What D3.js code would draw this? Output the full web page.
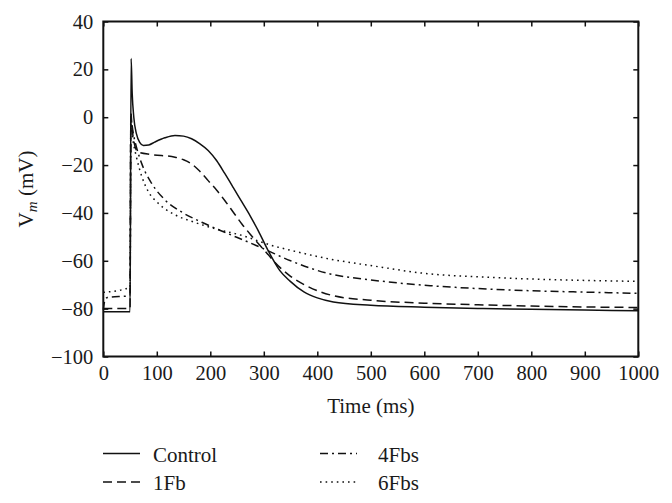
<!DOCTYPE html>

<head>
    <meta charset="utf-8">
    <title>Membrane potential</title>
    <script type="text/javascript" src="https://d3js.org/d3.v7.min.js"></script>
    <style>
        body { margin: 0; background: #fff; }
        text { font-family: "Liberation Serif", "DejaVu Serif", serif; fill: #1a1a1a; }
    </style>
</head>

<body>
    <div id="container"></div>
    <script>
        //------------------------1. DATA------------------------//
        var seriesNames = ["Control", "1Fb", "4Fbs", "6Fbs"];

        var controlT = [0, 50, 52, 54, 57, 62, 68, 75, 85, 96, 115, 134, 150, 165, 180, 196, 212, 227, 243, 259, 275, 290, 308, 330, 349, 375, 400, 430, 500, 600, 700, 800, 900, 1000];
        var controlV = [-81.3, -81.3, 24.5, 10, 0, -7, -10.5, -11.8, -11.6, -10.4, -8.6, -7.6, -7.9, -9, -11, -13.9, -18.2, -23.5, -29.4, -35.4, -41.4, -47.6, -55.7, -64.1, -68.5, -73, -75.5, -77.2, -78.6, -79.4, -79.9, -80.3, -80.6, -80.9];

        var fb1T = [0, 50, 51.5, 54, 58, 65, 90, 134, 150, 165, 180, 196, 212, 227, 243, 259, 275, 290, 305, 320, 350, 380, 430, 500, 600, 700, 800, 900, 1000];
        var fb1V = [-79.9, -79.9, 2, -5, -11, -14.6, -15.6, -16.7, -17.8, -19.5, -22.5, -26.5, -30.5, -34.8, -39.7, -44.6, -49, -52.9, -56.6, -60.5, -66.5, -70.5, -74.6, -76.5, -77.7, -78.4, -78.9, -79.3, -79.5];

        var fb4T = [0, 3, 8, 50, 51.5, 57, 62, 72, 90, 115, 147, 184, 227, 271, 302, 350, 424, 500, 611, 700, 798, 900, 1000];
        var fb4V = [-80.5, -76.5, -75.3, -74.6, -1.5, -8, -12.5, -19.5, -27.5, -34.5, -39.7, -43.9, -48.1, -52.2, -55.2, -60, -65.5, -68, -70.4, -71.6, -72.5, -73.1, -73.6];

        var fb6T = [0, 50, 51.5, 55, 62, 72, 84, 103, 134, 165, 209, 259, 315, 350, 424, 500, 611, 700, 798, 900, 1000];
        var fb6V = [-73.2, -71.1, -3, -9, -16.7, -24.8, -31, -36, -40.8, -43.5, -46.6, -49.4, -53.6, -55.6, -59.3, -62, -65.5, -66.7, -67.6, -68.2, -68.6];

        var xTicks = [0, 100, 200, 300, 400, 500, 600, 700, 800, 900, 1000];
        var yTicks = [-100, -80, -60, -40, -20, 0, 20, 40];

        //------------------------2. PREPARATION------------------------//
        var W = 672, H = 503,
            margin = { top: 21.5, right: 33.7, bottom: 146.5, left: 103.3 },
            width = W - margin.left - margin.right,
            height = H - margin.top - margin.bottom;

        var dashes = ["none", "9,5", "8,4,2,4", "1.6,4"];

        var x = d3.scaleLinear().domain([0, 1000]).range([0, width]);
        var y = d3.scaleLinear().domain([-100, 40]).range([height, 0]);

        function zip(ts, vs) {
            return ts.map(function (t, i) { return { t: t, v: vs[i] }; });
        }

        var series = [
            { name: seriesNames[0], values: zip(controlT, controlV) },
            { name: seriesNames[1], values: zip(fb1T, fb1V) },
            { name: seriesNames[2], values: zip(fb4T, fb4V) },
            { name: seriesNames[3], values: zip(fb6T, fb6V) }
        ];

        var svg = d3.select("#container").append("svg")
            .attr("width", W).attr("height", H);

        var g = svg.append("g")
            .attr("transform", "translate(" + margin.left + "," + margin.top + ")");

        //-----------------------------LINES-----------------------------//
        var line = d3.line()
            .x(function (d) { return x(d.t); })
            .y(function (d) { return y(d.v); })
            .curve(d3.curveMonotoneX);

        g.selectAll(".series")
            .data(series)
            .enter().append("path")
            .attr("class", "series")
            .attr("d", function (d) { return line(d.values); })
            .attr("fill", "none")
            .attr("stroke", "#111")
            .attr("stroke-width", 1.5)
            .attr("stroke-dasharray", function (d, i) { return dashes[i]; });

        //-----------------------------AXES-----------------------------//
        function styleAxis(sel) {
            sel.select(".domain").remove();
            sel.selectAll(".tick line").attr("stroke", "#111").attr("stroke-width", 1.5);
            sel.selectAll(".tick text").style("font-size", "20.5px").attr("fill", "#1a1a1a");
        }

        g.append("g")
            .attr("transform", "translate(0," + height + ")")
            .call(d3.axisBottom(x).tickValues(xTicks).tickSizeInner(-5).tickPadding(9).tickFormat(d3.format("d")))
            .call(styleAxis);

        g.append("g")
            .call(d3.axisTop(x).tickValues(xTicks).tickSizeInner(-5).tickFormat(""))
            .call(styleAxis);

        g.append("g")
            .call(d3.axisLeft(y).tickValues(yTicks).tickSizeInner(-5).tickPadding(10).tickFormat(function (d) { return d < 0 ? "\u2212" + Math.abs(d) : d; }))
            .call(styleAxis);

        g.append("g")
            .attr("transform", "translate(" + width + ",0)")
            .call(d3.axisRight(y).tickValues(yTicks).tickSizeInner(-5).tickFormat(""))
            .call(styleAxis);

        g.append("rect")
            .attr("width", width).attr("height", height)
            .attr("fill", "none").attr("stroke", "#111").attr("stroke-width", 2);

        // axis titles
        g.append("text")
            .attr("x", width / 2).attr("y", height + 56)
            .attr("text-anchor", "middle")
            .style("font-size", "21px")
            .text("Time (ms)");

        var yl = svg.append("text")
            .attr("transform", "translate(33," + (margin.top + y(-30)) + ") rotate(-90)")
            .attr("text-anchor", "middle")
            .style("font-size", "21px");
        yl.append("tspan").text("V");
        yl.append("tspan").attr("dy", 4).style("font-size", "15px").style("font-style", "italic").text("m");
        yl.append("tspan").attr("dy", -4).text(" (mV)");

        //----------------------------LEGEND-----------------------------//
        var legend = svg.selectAll(".legend")
            .data(series)
            .enter().append("g")
            .attr("class", "legend")
            .attr("transform", function (d, i) {
                return "translate(" + (Math.floor(i / 2) * 217 + 103) + "," + (i % 2 * 28.5 + 453.5) + ")";
            });

        legend.append("line")
            .attr("x1", 0).attr("x2", 37)
            .attr("stroke", "#111").attr("stroke-width", 1.5)
            .attr("stroke-dasharray", function (d, i) { return dashes[i]; });

        legend.append("text")
            .attr("x", function (d, i) { return i < 2 ? 50 : 58; }).attr("y", 8)
            .style("font-size", "21px")
            .text(function (d) { return d.name; });
    </script>
</body>
